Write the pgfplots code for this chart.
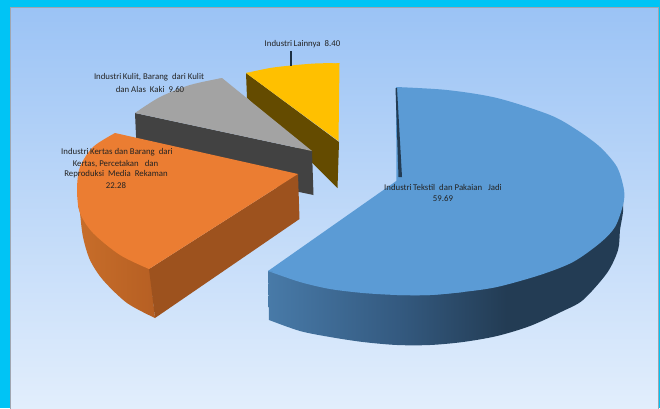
\documentclass[border=0pt]{standalone}
\usepackage{pgfplots}
\pgfplotsset{compat=1.18}
\usepackage{fontspec}
\setmainfont{Carlito}
\definecolor{frame}{RGB}{0,196,245}
\definecolor{panelTop}{RGB}{155,195,245}
\definecolor{panelBot}{RGB}{226,238,252}
\definecolor{panelEdge}{RGB}{160,165,175}
\definecolor{blueTop}{RGB}{91,155,213}
\definecolor{blueDark}{RGB}{35,60,84}
\definecolor{blueLeft}{RGB}{72,122,168}
\definecolor{blueMid}{RGB}{52,90,128}
\definecolor{orangeTop}{RGB}{235,125,50}
\definecolor{orangeFace}{RGB}{157,82,30}
\definecolor{orangeL}{RGB}{200,110,42}
\definecolor{orangeR}{RGB}{182,95,35}
\definecolor{grayTop}{RGB}{163,163,163}
\definecolor{grayFace}{RGB}{66,66,66}
\definecolor{yellowTop}{RGB}{255,192,0}
\definecolor{yellowFace}{RGB}{100,75,0}
\definecolor{labeltext}{RGB}{35,35,35}
% rim shading of the large slice: lighter on the left, darkest from about two thirds on
\pgfdeclarehorizontalshading{bluerim}{100bp}{
  color(0bp)=(blueLeft); color(25bp)=(blueLeft); color(43bp)=(blueMid);
  color(58bp)=(blueDark); color(100bp)=(blueDark)}
\tikzset{lbl/.style={font=\fontsize{8.8}{10}\selectfont, text=labeltext, inner sep=0pt, anchor=center}}
\begin{document}
\begin{tikzpicture}
\begin{axis}[
  scale only axis, width=660pt, height=408pt,
  xmin=0, xmax=660, ymin=0, ymax=408, y dir=reverse,
  hide axis, clip=true,
]
% outer frame and panel
\addplot[fill=frame, draw=none] coordinates {(0,0) (660,0) (660,408) (0,408)} -- cycle;
\addplot[top color=panelTop, bottom color=panelBot, draw=panelEdge, line width=1pt]
  coordinates {(10,7) (658.5,7) (658.5,409) (10,409)} -- cycle;

% Each top face is a straight-edged wedge overlapping one or two smoothed outer arcs.

% Industri Lainnya
\addplot[fill=yellowFace, draw=none] coordinates {(246,73) (339,142) (337.5,188) (247,98)} -- cycle;
\addplot[smooth, fill=yellowTop, draw=none] coordinates {(246,73) (270,68) (291,65.5) (315,63.5) (339.5,63)} -- cycle;
\addplot[fill=yellowTop, draw=none] coordinates {(246,73) (291,67) (339.5,63) (338.5,141)} -- cycle;
\addplot[draw=blueDark!80!black, line width=1.2pt] coordinates {(291,51) (291,66)};

% Industri Kulit
\addplot[fill=grayFace, draw=none] coordinates {(135,113) (312,151) (313.5,195) (137,158)} -- cycle;
\addplot[smooth, fill=grayTop, draw=none] coordinates {(135,113) (160,97) (190,85) (222,78)} -- cycle;
\addplot[fill=grayTop, draw=none] coordinates {(135,113) (175,93) (222,78) (312,151)} -- cycle;

% Industri Kertas
\addplot[smooth, left color=orangeL, right color=orangeR, draw=none]
  coordinates {(155,318) (127,303) (103,280) (90,260) (83,237) (80,213) (79,203) (100,200) (149,262)} -- cycle;
\addplot[fill=orangeFace, draw=none] coordinates {(149,269) (298,174) (299.5,219) (155,318)} -- cycle;
\addplot[smooth, fill=orangeTop, draw=none]
  coordinates {(115,133) (93,147) (80,167) (77,190) (80,213) (93,233) (120,255) (149,269)} -- cycle;
\addplot[fill=orangeTop, draw=none] coordinates {(115,133) (100,200) (149,269) (298,174)} -- cycle;

% Industri Tekstil
\addplot[smooth, shading=bluerim, draw=none]
  coordinates {(269,320) (300,331) (330,337) (363,342) (397,345) (430,345) (463,342) (497,336) (530,326) (563,311) (583,300) (607,273) (618,250) (620,230) (623,206) (612,195) (500,230) (268,271)} -- cycle;
\addplot[smooth, fill=blueTop, draw=none]
  coordinates {(396,87) (447,90) (497,98) (550,115) (577,130) (600,147) (617,167) (624,190) (623,205) (615,227) (600,243) (573,262) (540,275) (497,287) (463,292) (430,295) (397,295)} -- cycle;
\addplot[smooth, fill=blueTop, draw=none]
  coordinates {(463,292) (430,295) (397,295) (363,293) (330,289) (300,282) (268,271)} -- cycle;
\addplot[fill=blueTop, draw=none] coordinates {(396,87) (430,280) (430,295) (268,271) (402,177)} -- cycle;
\addplot[fill=blueDark, draw=none] coordinates {(395.5,88) (397,88) (402,177) (398.5,177)} -- cycle;

% slice labels
\node[lbl] at (axis cs:302.5,44) {Industri\,Lainnya\ \ 8.40};
\node[lbl] at (axis cs:149,77) {Industri\,Kulit, Barang\ \ dari Kulit};
\node[lbl] at (axis cs:150,89) {dan Alas\ \ Kaki\ \ 9.60};
\node[lbl] at (axis cs:117,152) {Industri\,Kertas dan Barang\ \ dari};
\node[lbl] at (axis cs:115.5,164) {Kertas, Percetakan\ \ \ dan};
\node[lbl] at (axis cs:116,174.5) {Reproduksi\ \ Media\ \ Rekaman};
\node[lbl] at (axis cs:116,186) {22.28};
\node[lbl] at (axis cs:443,187) {Industri\,Tekstil\ \ dan Pakaian\ \ \ Jadi};
\node[lbl] at (axis cs:443,199) {59.69};
\end{axis}
\end{tikzpicture}
\end{document}
